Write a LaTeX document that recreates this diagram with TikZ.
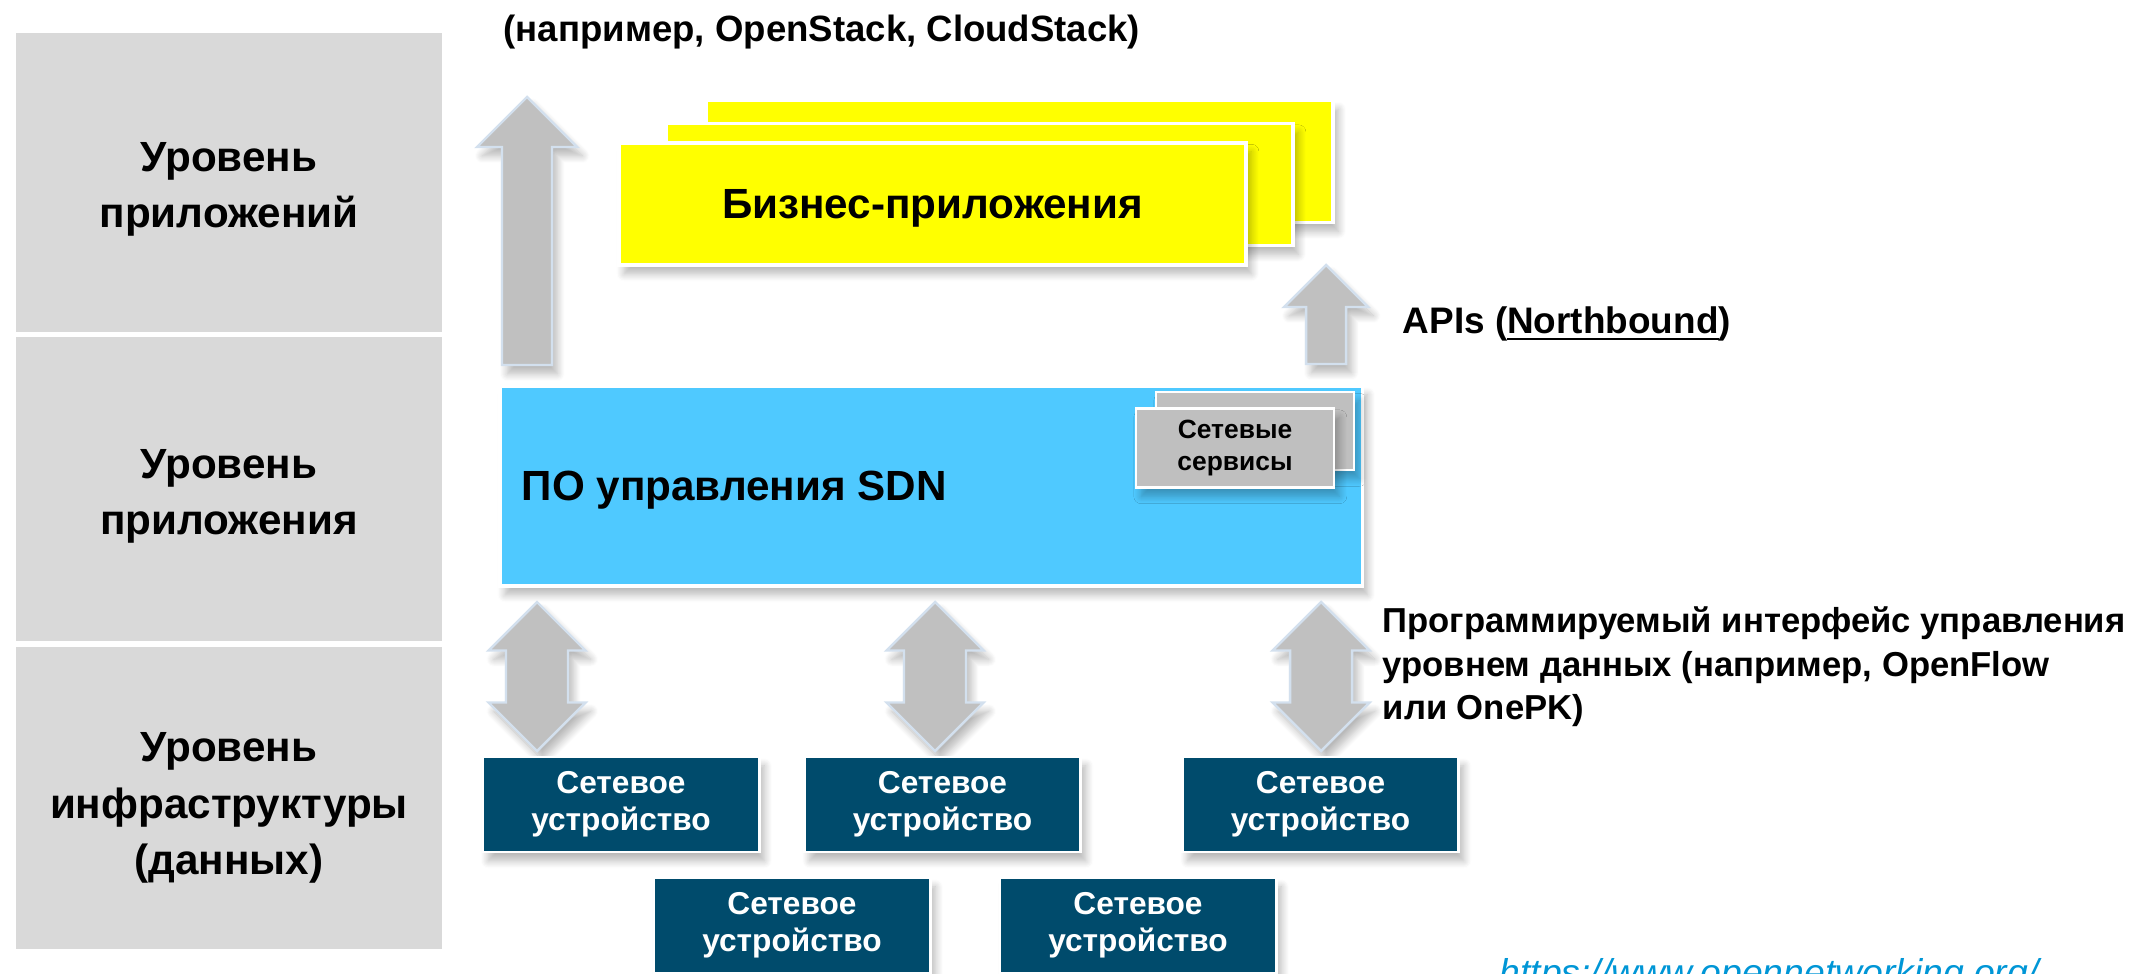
\documentclass[tikz,border=0pt]{standalone}
\usepackage{fontspec}
\setmainfont{Liberation Sans}
\usetikzlibrary{positioning,calc,shadows.blur}

\definecolor{levelgray}{HTML}{D9D9D9}
\definecolor{appyellow}{HTML}{FFFF00}
\definecolor{ctrlblue}{HTML}{4FC9FF}
\definecolor{svcgray}{HTML}{BFBFBF}
\definecolor{devteal}{HTML}{004B6C}
\definecolor{arrowgray}{HTML}{C0C0C0}
\definecolor{arrowrim}{HTML}{D3E0EE}
\definecolor{linkblue}{HTML}{0096D6}

\tikzset{
  softshadow/.style={blur shadow={shadow xshift=1.5pt, shadow yshift=-2.5pt,
      shadow blur steps=8, shadow opacity=28}},
  level/.style={fill=levelgray, minimum width=4.26cm},
  leveltext/.style={align=center, font=\bfseries\fontsize{12}{16}\selectfont},
  appbox/.style={fill=appyellow, draw=white, line width=1pt, softshadow,
      minimum width=6.27cm, minimum height=1.22cm, text depth=0pt,
      font=\bfseries\fontsize{12}{14}\selectfont},
  ctrlbox/.style={fill=ctrlblue, draw=white, line width=1pt, softshadow,
      minimum width=8.62cm, minimum height=2cm},
  svcbox/.style={fill=svcgray, draw=white, line width=0.8pt, softshadow,
      minimum width=1.98cm, minimum height=0.78cm, align=center,
      font=\bfseries\fontsize{7.5}{9}\selectfont},
  devbox/.style={fill=devteal, draw=white, line width=0.8pt, softshadow,
      minimum width=2.76cm, minimum height=0.95cm, align=center,
      text=white, font=\bfseries\fontsize{9}{10.5}\selectfont},
  blockarrow/.style={fill=arrowgray, draw=arrowrim, line width=0.7pt, softshadow},
  note/.style={inner sep=0pt, align=left, font=\bfseries\fontsize{9.85}{12.4}\selectfont}
}

% x, tip y, tail y, shaft width, head width
\newcommand{\uparrowbar}[5]{%
  \filldraw[blockarrow] ({#1-#4/2},#3) -- ({#1-#4/2},{#2+#5/2})
    -- ({#1-#5/2},{#2+#5/2}) -- (#1,#2) -- ({#1+#5/2},{#2+#5/2})
    -- ({#1+#4/2},{#2+#5/2}) -- ({#1+#4/2},#3) -- cycle;}
% x, top tip y, bottom tip y, shaft width, head width
\newcommand{\dblarrowbar}[5]{%
  \filldraw[blockarrow] (#1,#2) -- ({#1+#5/2},{#2+#5/2}) -- ({#1+#4/2},{#2+#5/2})
    -- ({#1+#4/2},{#3-#5/2}) -- ({#1+#5/2},{#3-#5/2}) -- (#1,#3)
    -- ({#1-#5/2},{#3-#5/2}) -- ({#1-#4/2},{#3-#5/2})
    -- ({#1-#4/2},{#2+#5/2}) -- ({#1-#5/2},{#2+#5/2}) -- cycle;}

\begin{document}
\begin{tikzpicture}[x=0.01cm, y=-0.01cm]
\useasboundingbox (0,0) rectangle (2131,973);

% layers
\node[level, minimum height=2.99cm] (lvlapps) at (229,182.5) {};
\node[level, minimum height=3.04cm] (lvlctrl) at (229,489) {};
\node[level, minimum height=3.02cm] (lvlinfra) at (229,798) {};
\node[leveltext] (lvlappstext) at ($(lvlapps.center)+(0,7)$) {Уровень\\приложений};
\node[leveltext] (lvlctrltext) at ($(lvlctrl.center)+(0,7)$) {Уровень\\приложения};
\node[leveltext] (lvlinfratext) at ($(lvlinfra.center)+(0,10)$) {Уровень\\инфраструктуры\\(данных)};

\node[note, anchor=west, font=\bfseries\fontsize{10.4}{12}\selectfont] (orchnote)
  at (503,32) {(например, OpenStack, CloudStack)};

% business applications
\node[appbox] (appback) at (1019.5,161.5) {};
\node[appbox] (appmid) at (979.5,184.5) {};
\node[appbox] (appfront) at (932.5,204) {Бизнес-приложения};

% arrows up to the applications
\uparrowbar{527}{97}{365}{50}{100}
\uparrowbar{1326}{265}{364}{40}{84}
\node[note, anchor=west, font=\bfseries\fontsize{10.5}{12}\selectfont] (apinote) at (1402,324)
  {APIs (\underline{Northbound})};

% controller
\node[ctrlbox] (sdn) at (931,486) {};
\node[anchor=west, inner sep=0pt, font=\bfseries\fontsize{12}{14}\selectfont] (sdnlabel)
  at (521,490) {ПО управления SDN};
\node[svcbox] (svcback) at (1255,431) {};
\node[svcbox] (svcfront) at (1235,448) {Сетевые\\сервисы};

% southbound
\foreach \x in {537,935,1321}
  \dblarrowbar{\x}{602}{751}{62}{97};
\node[note, anchor=north west] (ifacenote) at (1382,606)
  {Программируемый интерфейс управления\\уровнем данных (например, OpenFlow\\или OnePK)};

% devices
\foreach \name/\x/\y in {dev1/621/804.5, dev2/942.5/804.5, dev3/1320.5/804.5,
                         dev4/792/925.5, dev5/1138/925.5}
  \node[devbox] (\name) at (\x,\y) {Сетевое\\устройство};

\node[anchor=base west, inner sep=0pt, text=linkblue, font=\itshape\fontsize{10.6}{13}\selectfont]
  (srcurl) at (1499,985) {https://www.opennetworking.org/};
\end{tikzpicture}
\end{document}
